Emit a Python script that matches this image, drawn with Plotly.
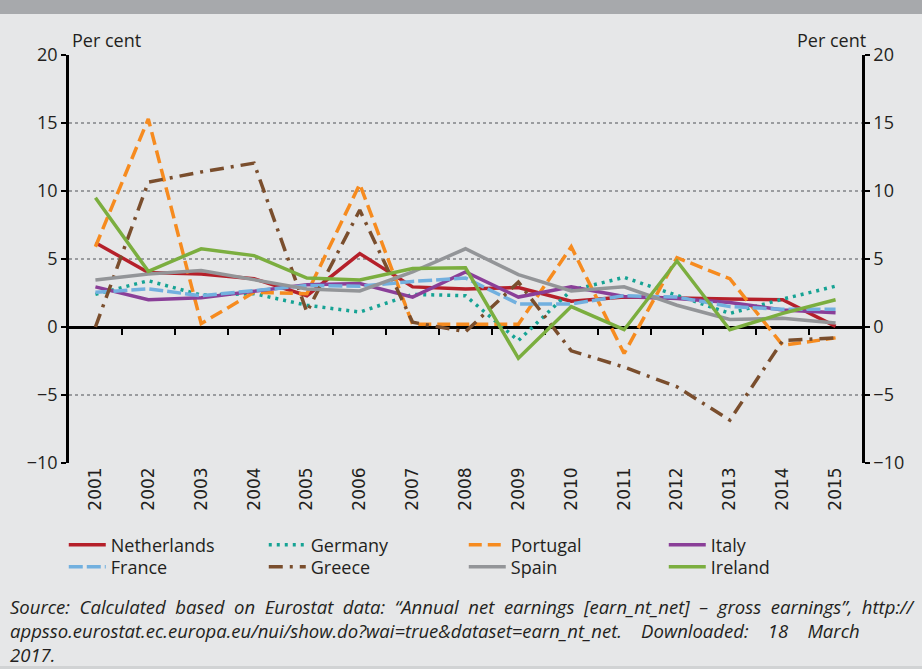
import plotly.graph_objects as go

years = ["2001", "2002", "2003", "2004", "2005", "2006", "2007", "2008",
         "2009", "2010", "2011", "2012", "2013", "2014", "2015"]

netherlands = [6.2, 4.0, 3.9, 3.55, 2.3, 5.4, 2.95, 2.8, 2.9, 1.9, 2.2, 2.1, 2.05, 2.0, 0.05]
germany = [2.4, 3.4, 2.35, 2.45, 1.6, 1.1, 2.4, 2.3, -1.0, 2.7, 3.65, 2.3, 1.0, 2.05, 3.0]
portugal = [5.9, 15.3, 0.25, 2.55, 2.45, 10.5, 0.2, 0.2, 0.2, 5.9, -1.95, 5.1, 3.55, -1.35, -0.8]
italy = [2.95, 2.0, 2.15, 2.6, 3.1, 3.2, 2.2, 4.05, 2.2, 2.95, 2.25, 2.1, 1.8, 1.25, 1.05]
france = [2.55, 2.8, 2.3, 2.65, 3.05, 3.0, 3.35, 3.6, 1.7, 1.7, 2.3, 2.2, 1.5, 1.3, 1.3]
greece = [0.0, 10.65, 11.4, 12.05, 1.1, 8.6, 0.35, -0.35, 3.3, -1.75, -2.95, -4.4, -6.85, -1.0, -0.8]
spain = [3.45, 3.9, 4.15, 3.45, 2.8, 2.65, 4.05, 5.75, 3.85, 2.65, 2.95, 1.6, 0.55, 0.65, 0.3]
ireland = [9.5, 4.1, 5.75, 5.25, 3.6, 3.45, 4.3, 4.35, -2.3, 1.5, -0.2, 4.85, -0.2, 1.0, 2.0]

y_ticks = [-10, -5, 0, 5, 10, 15, 20]
y_ticktext = ["\u221210", "\u22125", "0", "5", "10", "15", "20"]

series = [
    ("Netherlands", netherlands, "#B5202A", "solid", "legend"),
    ("Germany", germany, "#16A394", "3px,5px", "legend"),
    ("Portugal", portugal, "#F68B1F", "13px,6px", "legend"),
    ("Italy", italy, "#8A3F98", "solid", "legend"),
    ("France", france, "#72B0DF", "14px,4px", "legend2"),
    ("Greece", greece, "#7A4E2D", "14px,7px,3px,7px", "legend2"),
    ("Spain", spain, "#939598", "solid", "legend2"),
    ("Ireland", ireland, "#7BAE3F", "solid", "legend2"),
]

BG = "#E6E7E8"
TXT = "#231F20"

fig = go.Figure()
for name, vals, color, dash, leg in series:
    fig.add_trace(go.Scatter(
        x=years, y=vals, name=name, mode="lines", legend=leg,
        line=dict(color=color, width=3.5, dash=dash),
    ))

# helper traces for the secondary axes (zero axis with category ticks, right y axis)
fig.add_trace(go.Scatter(x=[0, 14], y=[None, None], xaxis="x2", yaxis="y",
                         showlegend=False, hoverinfo="skip"))
fig.add_trace(go.Scatter(x=years[:1], y=[None], xaxis="x", yaxis="y2",
                         showlegend=False, hoverinfo="skip"))

legend_common = dict(
    orientation="h", x=-0.0066, xanchor="left", yanchor="middle",
    entrywidth=148, entrywidthmode="pixels", bgcolor="rgba(0,0,0,0)",
    font=dict(size=18, color=TXT), itemwidth=37,
)

fig.update_layout(
    width=922, height=669,
    paper_bgcolor=BG, plot_bgcolor=BG,
    margin=dict(l=69, r=60, t=55, b=206, autoexpand=False),
    font=dict(family="Open Sans", size=18, color=TXT),
    xaxis=dict(
        type="category", range=[-0.5, 14.5], showgrid=False, zeroline=False,
        showline=False, ticks="", tickangle=-90, automargin=False,
        tickfont=dict(family="DejaVu Sans", size=17, color=TXT),
    ),
    xaxis2=dict(
        overlaying="x", anchor="free", position=1/3, range=[-0.5, 14.5],
        showline=True, linecolor="#000000", linewidth=2.5,
        ticks="outside", ticklen=6, tickwidth=2, tickcolor="#000000",
        tickmode="array", tickvals=[i + 0.5 for i in range(14)],
        showticklabels=False, showgrid=False, zeroline=False, layer="below traces",
        automargin=False,
    ),
    yaxis=dict(
        range=[-10, 20], tickvals=y_ticks, ticktext=y_ticktext,
        showgrid=True, gridcolor="#9A9C9F", griddash="dot", gridwidth=1.5,
        zeroline=False, showline=True, linecolor="#000000", linewidth=2.5,
        ticks="outside", ticklen=5, tickwidth=2, tickcolor="#000000",
        tickfont=dict(size=18), layer="below traces", automargin=False,
    ),
    yaxis2=dict(
        overlaying="y", side="right", range=[-10, 20], tickvals=y_ticks,
        ticktext=y_ticktext, showgrid=False, zeroline=False, showline=True,
        linecolor="#000000", linewidth=2.5, ticks="outside", ticklen=5,
        tickwidth=2, tickcolor="#000000", tickfont=dict(size=18), automargin=False,
    ),
    legend=dict(y=(463 - 545) / 408, **legend_common),
    legend2=dict(y=(463 - 567) / 408, **legend_common),
    showlegend=True,
)

fig.add_shape(type="rect", xref="paper", yref="paper",
              x0=-0.2, x1=1.2, y0=(463 - 14) / 408, y1=1.3,
              fillcolor="#A7A9AC", line=dict(width=0), layer="below")
fig.add_shape(type="rect", xref="paper", yref="paper",
              x0=-0.2, x1=1.2, y0=-0.6, y1=(463 - 666) / 408,
              fillcolor="#D1D3D4", line=dict(width=0), layer="below")

fig.add_annotation(text="Per cent", xref="paper", yref="paper",
                   x=0.001, y=(463 - 40) / 408, xanchor="left", yanchor="middle",
                   showarrow=False, font=dict(size=18, color=TXT))
fig.add_annotation(text="Per cent", xref="paper", yref="paper",
                   x=(868 - 69) / 793, y=(463 - 40) / 408, xanchor="right", yanchor="middle",
                   showarrow=False, font=dict(size=18, color=TXT))

NB = "\u00a0"
source_lines = [
    ("Source: Calculated based on Eurostat data: \u201cAnnual net earnings "
     "[earn_nt_net] \u2013 gross earnings\u201d, http://").replace(" ", NB * 2),
    ("appsso.eurostat.ec.europa.eu/nui/show.do?wai=true&dataset=earn_nt_net."
     + NB * 4 + "Downloaded:" + NB * 4 + "18" + NB * 4 + "March"),
    "2017.",
]
fig.add_annotation(text="<i>" + "<br>".join(source_lines) + "</i>",
                   xref="paper", yref="paper",
                   x=(8 - 69) / 793, y=(463 - 592) / 408,
                   xanchor="left", yanchor="top", align="left", showarrow=False,
                   font=dict(size=18.5, color=TXT))

fig.write_html("out.html",
               config={"displayModeBar": False},
               post_script="document.body.style.margin='0';"
                           "document.documentElement.style.overflow='hidden';")
